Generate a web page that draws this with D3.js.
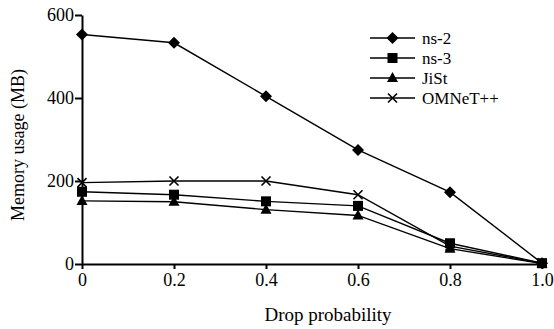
<!DOCTYPE html>
<html><head><meta charset="utf-8">
<script src="https://cdn.jsdelivr.net/npm/d3@7"></script>
<style>body{margin:0;background:#fff}svg{display:block}</style>
</head><body>
<script>
const xValues = [0, 0.2, 0.4, 0.6, 0.8, 1.0];
const ns2 = [553, 533, 404, 275, 173, 2];
const ns3 = [174, 167, 151, 140, 50, 2];
const jist = [152, 150, 131, 117, 37, 1];
const omnet = [196, 200, 200, 167, 43, 2];
const seriesNames = ["ns-2", "ns-3", "JiSt", "OMNeT++"];
const seriesMarkers = ["diamond", "square", "triangle", "cross"];
const xTicks = [0, 0.2, 0.4, 0.6, 0.8, 1.0];
const xTickLabels = ["0", "0.2", "0.4", "0.6", "0.8", "1.0"];
const yTicks = [0, 200, 400, 600];

const W = 554, H = 329;
const svg = d3.select("body").append("svg").attr("width", W).attr("height", H);
const font = "'Liberation Serif', 'Times New Roman', serif";
const x = d3.scaleLinear().domain([0, 1]).range([82, 542]);
const y = d3.scaleLinear().domain([0, 600]).range([264, 15]);

const series = [ns2, ns3, jist, omnet].map((v, i) => ({name: seriesNames[i], marker: seriesMarkers[i], values: v}));

function drawMarker(g, type, cx, cy) {
  if (type === "diamond") {
    g.append("path").attr("d", `M${cx},${cy-6}L${cx+6},${cy}L${cx},${cy+6}L${cx-6},${cy}Z`).attr("fill", "#000");
  } else if (type === "square") {
    g.append("rect").attr("x", cx - 5).attr("y", cy - 5).attr("width", 10).attr("height", 10).attr("fill", "#000");
  } else if (type === "triangle") {
    g.append("path").attr("d", `M${cx},${cy-6}L${cx+5.5},${cy+4}L${cx-5.5},${cy+4}Z`).attr("fill", "#000");
  } else {
    g.append("path").attr("d", `M${cx-4.5},${cy-4.5}L${cx+4.5},${cy+4.5}M${cx-4.5},${cy+4.5}L${cx+4.5},${cy-4.5}`).attr("stroke", "#000").attr("stroke-width", 1.6);
  }
}

// Axes
const xAxis = d3.axisBottom(x).tickValues(xTicks).tickFormat((d, i) => xTickLabels[i]).tickSize(5).tickSizeOuter(0);
const gx = svg.append("g").attr("transform", `translate(0,${y(0)})`).call(xAxis).attr("font-family", font);
gx.select(".domain").attr("stroke-width", 2);
gx.selectAll(".tick line").attr("stroke-width", 2);
gx.selectAll("text").attr("font-family", font).attr("font-size", 18).attr("fill", "#000").attr("dy", "0.85em").attr("y", 7);

const yAxis = d3.axisLeft(y).tickValues(yTicks).tickSize(7).tickSizeOuter(0);
const gy = svg.append("g").attr("transform", `translate(${x(0)},0)`).call(yAxis).attr("font-family", font);
gy.select(".domain").attr("stroke-width", 2);
gy.selectAll(".tick line").attr("stroke-width", 2);
gy.selectAll("text").attr("font-family", font).attr("font-size", 18).attr("fill", "#000").attr("x", -8).attr("dy", "0.33em");

// Titles
svg.append("text").attr("transform", `translate(24,145) rotate(-90)`).attr("text-anchor", "middle")
  .attr("font-family", font).attr("font-size", 18).text("Memory usage (MB)");
svg.append("text").attr("x", 328).attr("y", 321).attr("text-anchor", "middle")
  .attr("font-family", font).attr("font-size", 19).text("Drop probability");

// Lines
const line = d3.line().x((d, i) => x(xValues[i])).y(d => y(d));
const gLines = svg.append("g");
series.forEach(s => {
  gLines.append("path").attr("d", line(s.values)).attr("fill", "none").attr("stroke", "#000").attr("stroke-width", 1.4);
});
series.forEach(s => {
  s.values.forEach((v, i) => drawMarker(gLines, s.marker, x(xValues[i]), y(v)));
});

// Legend
const leg = svg.append("g");
series.forEach((s, i) => {
  const ly = 38 + i * 20;
  leg.append("line").attr("x1", 370).attr("x2", 415).attr("y1", ly).attr("y2", ly).attr("stroke", "#000").attr("stroke-width", 1.4);
  drawMarker(leg, s.marker, 392.5, ly);
  leg.append("text").attr("x", 422).attr("y", ly).attr("dy", "0.35em").attr("font-family", font).attr("font-size", 17).text(s.name);
});
</script>
</body></html>
